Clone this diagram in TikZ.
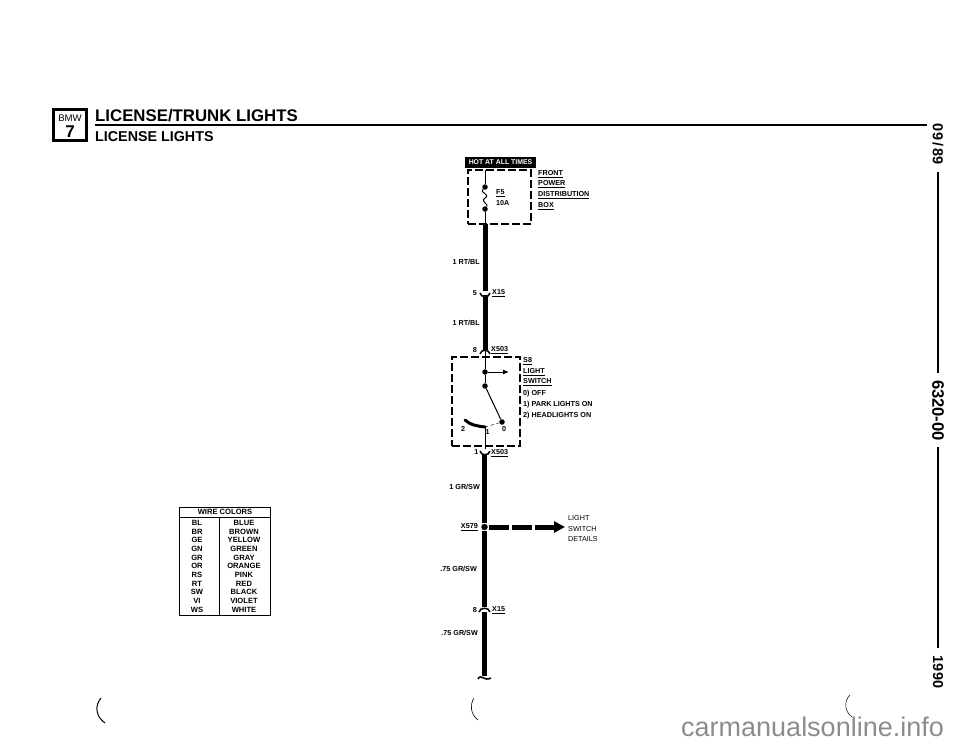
\documentclass[tikz,border=0pt]{standalone}
\usepackage{fontspec}
\setmainfont{Liberation Sans}
\usepackage{tikz}
\usetikzlibrary{arrows.meta, positioning}
\definecolor{markgray}{HTML}{8C8C8C}
\tikzstyle{tag} = [font=\bfseries\fontsize{7.2}{8}\selectfont, inner sep=0]
\tikzstyle{tabletext} = [font=\bfseries\fontsize{7.6}{8}\selectfont, inner sep=0]
\tikzstyle{sidetext} = [inner sep=0, rotate=-90]
\tikzstyle{dashbox} = [draw=black, line width=1.5pt, dash pattern=on 8pt off 3pt, inner sep=0]
\tikzstyle{junction} = [circle, fill=black, inner sep=0, minimum size=5.5pt]
\tikzstyle{wire} = [line width=5pt]
\tikzstyle{thin wire} = [line width=1pt]
\tikzstyle{plug} = [line width=1.5pt]
\tikzstyle{rule} = [line width=0.6pt]

\begin{document}
\begin{tikzpicture}[x=1pt, y=-1pt]
	\useasboundingbox (0, 0) rectangle (960, 744);

	% heading
	\node (Badge) [draw=black, line width=3pt, minimum width=33pt, minimum height=31pt, inner sep=0] at (70, 125) {};
	\node (BadgeMake) [inner sep=0, font=\fontsize{9.6}{10}\selectfont] at (70, 118) {BMW};
	\node (BadgeModel) [inner sep=0, font=\bfseries\fontsize{17}{17}\selectfont] at (70, 131.5) {7};
	\node (Title) [anchor=west, inner sep=0, font=\bfseries\fontsize{16.8}{18}\selectfont] at (95, 116) {LICENSE/TRUNK LIGHTS};
	\node (SubTitle) [anchor=west, inner sep=0, font=\bfseries\fontsize{14.3}{16}\selectfont] at (95, 137) {LICENSE LIGHTS};
	\coordinate (RuleIn) at (95, 125);
	\coordinate (RuleOut) at (927, 125);
	\draw [line width=2pt] (RuleIn) -- (RuleOut);

	% date, group and year down the edge
	\node (Date) [sidetext, font=\bfseries\fontsize{14.5}{16}\selectfont] at (938, 144.5) {09\,/\,89};
	\node (Group) [sidetext, font=\bfseries\fontsize{16.6}{18}\selectfont] at (938, 410.5) {6320-00};
	\node (Year) [sidetext, font=\bfseries\fontsize{14.4}{16}\selectfont] at (938, 672) {1990};
	\coordinate (DateOut) at (937.5, 172);
	\coordinate (GroupIn) at (937.5, 373);
	\coordinate (GroupOut) at (937.5, 447);
	\coordinate (YearIn) at (937.5, 648);
	\draw [line width=2pt] (DateOut) -- (GroupIn);
	\draw [line width=2pt] (GroupOut) -- (YearIn);

	% fuse box
	\node (Hot) [fill=black, text=white, minimum width=71pt, minimum height=11pt, inner sep=0, font=\bfseries\fontsize{6.9}{8}\selectfont] at (500.5, 162.5) {HOT AT ALL TIMES};
	\node (FuseBox) [dashbox, minimum width=63pt, minimum height=54pt] at (499.5, 197) {};
	\coordinate (FuseTop) at (485, 170);
	\coordinate (FuseBottom) at (485, 224);
	\node (FuseIn) [junction] at (485, 187) {};
	\node (FuseOut) [junction] at (485, 209) {};
	\draw [thin wire] (FuseTop) -- (FuseIn);
	\draw [thin wire] (FuseIn) .. controls (479, 193) and (491, 194) .. (485, 198) .. controls (480, 202) and (489, 204) .. (FuseOut);
	\draw [thin wire] (FuseOut) -- (FuseBottom);
	\node (FuseName) [tag, anchor=west] at (496, 193) {\underline{F5}};
	\node (FuseRating) [tag, anchor=west] at (496, 203) {10A};
	\node (Front) [tag, anchor=west] at (538, 174) {\underline{FRONT}};
	\node (Power) [tag, anchor=west] at (538, 184.5) {\underline{POWER}};
	\node (Distribution) [tag, anchor=west] at (538, 195) {\underline{DISTRIBUTION}};
	\node (Box) [tag, anchor=west] at (538, 206) {\underline{BOX}};

	% first wire
	\coordinate (WireOneOut) at (485, 291);
	\draw [wire] (FuseBottom) -- (WireOneOut);
	\node (WireOne) [tag, anchor=east] at (480, 262) {1 RT/BL};
	\node (PinFive) [tag, anchor=east] at (477, 293) {5};
	\node (ConTop) [tag, anchor=west] at (492, 293) {\underline{X15}};
	\coordinate (ConTopL) at (480, 293);
	\coordinate (ConTopR) at (490, 293);
	\draw [plug] (ConTopL) .. controls (481, 298) and (489, 298) .. (ConTopR);

	% second wire
	\coordinate (WireTwoIn) at (485, 295);
	\coordinate (WireTwoOut) at (485, 350);
	\draw [wire] (WireTwoIn) -- (WireTwoOut);
	\node (WireTwo) [tag, anchor=east] at (480, 323) {1 RT/BL};
	\node (PinEight) [tag, anchor=east] at (477, 350) {8};
	\node (SwitchIn) [tag, anchor=west] at (491, 350) {\underline{X503}};
	\coordinate (SwitchInL) at (480, 354);
	\coordinate (SwitchInR) at (490, 354);
	\draw [plug] (SwitchInL) .. controls (481, 349) and (489, 349) .. (SwitchInR);

	% light switch
	\node (SwitchBox) [dashbox, minimum width=68pt, minimum height=89pt] at (486, 401.5) {};
	\node (SwitchFeed) [junction] at (485, 372) {};
	\node (SwitchPivot) [junction] at (485, 386) {};
	\node (SwitchZero) [junction] at (502, 422) {};
	\coordinate (SwitchFeedOut) at (509, 372);
	\coordinate (SwitchOne) at (485, 427);
	\coordinate (SwitchTwo) at (465, 420);
	\coordinate (SwitchOut) at (485, 449);
	\draw [thin wire] (WireTwoOut) -- (SwitchFeed);
	\draw [thin wire] (SwitchFeed) -- (SwitchPivot);
	\draw [thin wire, -{Latex[length=6pt, width=5pt]}] (SwitchFeed) -- (SwitchFeedOut);
	\draw [thin wire] (SwitchPivot) -- (SwitchZero);
	\draw [line width=0.5pt, dashed] (SwitchOne) -- (SwitchZero);
	\draw [line width=3pt, line cap=round] (SwitchTwo) .. controls (470, 425) and (477, 426) .. (SwitchOne);
	\draw [thin wire] (SwitchOne) -- (SwitchOut);
	\node (PosTwo) [tag, anchor=center] at (463, 428.5) {2};
	\node (PosOne) [tag, anchor=center] at (487.5, 432) {1};
	\node (PosZero) [tag, anchor=center] at (504, 429) {0};
	\node (SwitchName) [tag, anchor=west] at (523, 361) {\underline{S8}};
	\node (Light) [tag, anchor=west] at (523, 372) {\underline{LIGHT}};
	\node (Switch) [tag, anchor=west] at (523, 382) {\underline{SWITCH}};
	\node (Off) [tag, anchor=west] at (523, 394) {0) OFF};
	\node (Park) [tag, anchor=west] at (523, 405) {1) PARK LIGHTS ON};
	\node (Head) [tag, anchor=west] at (523, 416) {2) HEADLIGHTS ON};
	\node (PinOne) [tag, anchor=east] at (478.5, 452) {1};
	\node (SwitchOutName) [tag, anchor=west] at (491, 453) {\underline{X503}};
	\coordinate (SwitchOutL) at (480, 451);
	\coordinate (SwitchOutR) at (490, 451);
	\draw [plug] (SwitchOutL) .. controls (481, 456) and (489, 456) .. (SwitchOutR);

	% lower wire and splice
	\coordinate (WireThreeIn) at (484.5, 454);
	\coordinate (SpliceIn) at (484.5, 523);
	\coordinate (SpliceOut) at (484.5, 531);
	\coordinate (WireThreeOut) at (484.5, 607);
	\draw [wire] (WireThreeIn) -- (SpliceIn);
	\draw [wire] (SpliceOut) -- (WireThreeOut);
	\node (Splice) [junction, minimum size=6.5pt] at (484.5, 527) {};
	\node (WireThree) [tag, anchor=east] at (480, 487) {1 GR/SW};
	\node (SpliceName) [tag, anchor=east] at (478, 527) {\underline{X579}};
	\node (WireFour) [tag, anchor=east] at (477, 569) {.75 GR/SW};
	\coordinate (DetailIn) at (489, 527);
	\coordinate (DetailOut) at (565, 527);
	\draw [line width=5pt, dash pattern=on 20pt off 3pt on 20pt off 2.5pt on 30pt, -{Triangle[length=11pt, width=11pt]}] (DetailIn) -- (DetailOut);
	\node (DetailLight) [tag, anchor=west, font=\fontsize{7.2}{8}\selectfont] at (568, 518) {LIGHT};
	\node (DetailSwitch) [tag, anchor=west, font=\fontsize{7.2}{8}\selectfont] at (568, 529) {SWITCH};
	\node (DetailText) [tag, anchor=west, font=\fontsize{7.2}{8}\selectfont] at (568, 539) {DETAILS};

	% last connector
	\node (PinEightLow) [tag, anchor=east] at (477, 610) {8};
	\node (ConLow) [tag, anchor=west] at (492, 610) {\underline{X15}};
	\coordinate (ConLowL) at (479, 612);
	\coordinate (ConLowR) at (490, 612);
	\draw [plug] (ConLowL) .. controls (480, 607) and (489, 607) .. (ConLowR);
	\coordinate (WireFiveIn) at (484.5, 612);
	\coordinate (WireFiveOut) at (484.5, 676);
	\draw [wire] (WireFiveIn) -- (WireFiveOut);
	\node (WireFive) [tag, anchor=east] at (478, 633) {.75 GR/SW};
	\coordinate (TailL) at (478, 679);
	\coordinate (TailR) at (491, 678);
	\draw [plug] (TailL) .. controls (481, 673) and (484, 682) .. (TailR);

	% wire colors
	\node (Table) [draw=black, rule, minimum width=91pt, minimum height=108pt, inner sep=0] at (224.5, 561) {};
	\coordinate (HeadL) at (179, 517);
	\coordinate (HeadR) at (270, 517);
	\coordinate (ColTop) at (219, 517);
	\coordinate (ColBottom) at (219, 615);
	\draw [rule] (HeadL) -- (HeadR);
	\draw [rule] (ColTop) -- (ColBottom);
	\node (TableHead) [tabletext] at (225, 511.5) {WIRE COLORS};
	\node (KeyBL) [tabletext] at (197, 523) {BL};
	\node (ValBL) [tabletext] at (244, 523) {BLUE};
	\node (KeyBR) [tabletext] at (197, 531.7) {BR};
	\node (ValBR) [tabletext] at (244, 531.7) {BROWN};
	\node (KeyGE) [tabletext] at (197, 540.3) {GE};
	\node (ValGE) [tabletext] at (244, 540.3) {YELLOW};
	\node (KeyGN) [tabletext] at (197, 549) {GN};
	\node (ValGN) [tabletext] at (244, 549) {GREEN};
	\node (KeyGR) [tabletext] at (197, 557.7) {GR};
	\node (ValGR) [tabletext] at (244, 557.7) {GRAY};
	\node (KeyOR) [tabletext] at (197, 566.3) {OR};
	\node (ValOR) [tabletext] at (244, 566.3) {ORANGE};
	\node (KeyRS) [tabletext] at (197, 575) {RS};
	\node (ValRS) [tabletext] at (244, 575) {PINK};
	\node (KeyRT) [tabletext] at (197, 583.7) {RT};
	\node (ValRT) [tabletext] at (244, 583.7) {RED};
	\node (KeySW) [tabletext] at (197, 592.3) {SW};
	\node (ValSW) [tabletext] at (244, 592.3) {BLACK};
	\node (KeyVI) [tabletext] at (197, 601) {VI};
	\node (ValVI) [tabletext] at (244, 601) {VIOLET};
	\node (KeyWS) [tabletext] at (197, 609.7) {WS};
	\node (ValWS) [tabletext] at (244, 609.7) {WHITE};

	% punch holes and web mark
	\draw [line width=1pt] (101, 698) .. controls (95, 705) and (95, 716) .. (105, 723);
	\draw [line width=0.6pt] (474, 698) .. controls (470, 704) and (470, 714) .. (478, 720);
	\draw [line width=0.5pt] (850, 695) .. controls (844, 701) and (844, 711) .. (852, 717);
	\node (Web) [anchor=base west, inner sep=0, text=markgray, font=\fontsize{27}{28}\selectfont] at (681, 736) {carmanualsonline.info};
\end{tikzpicture}
\end{document}
